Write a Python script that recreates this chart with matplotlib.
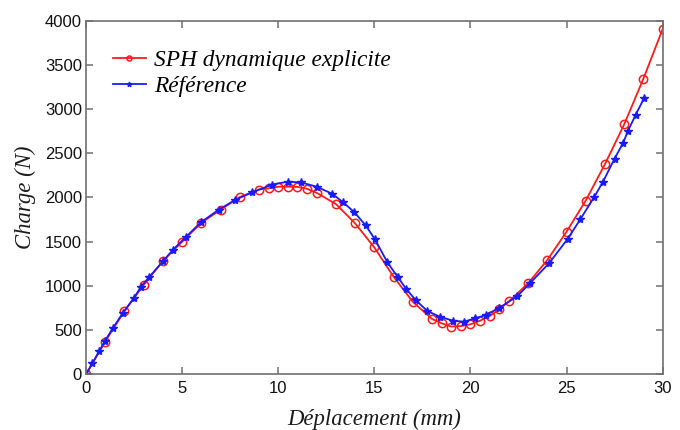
import matplotlib
matplotlib.use("Agg")
import matplotlib.pyplot as plt

# Data
sph_x = [0, 1, 2, 3, 4, 5, 6, 7, 8, 9, 9.5, 10, 10.5, 11, 11.5, 12, 13, 14, 15, 16, 17, 18,
         18.5, 19, 19.5, 20, 20.5, 21, 21.5, 22, 23, 24, 25, 26, 27, 28, 29, 30]
sph_y = [0, 370, 716, 1010, 1282, 1500, 1714, 1862, 2005, 2090, 2104, 2122, 2122, 2120, 2098,
         2053, 1926, 1708, 1435, 1104, 821, 626, 577, 540, 546, 566, 606, 659, 735, 825, 1029,
         1293, 1613, 1966, 2378, 2828, 3344, 3906]

ref_x = [0, 0.33, 0.68, 0.97, 1.39, 1.92, 2.48, 2.86, 3.3, 4.03, 4.51, 5.18, 5.98, 6.9, 7.75,
         8.66, 9.7, 10.5, 11.2, 12.0, 12.8, 13.37, 13.96, 14.55, 15.02, 15.68, 16.23, 16.67,
         17.15, 17.76, 18.4, 19.1, 19.66, 20.23, 20.8, 21.5, 22.43, 23.09, 24.09, 25.05, 25.72,
         26.45, 26.9, 27.5, 27.95, 28.2, 28.6, 29.03]
ref_y = [0, 124, 260, 373, 520, 694, 860, 991, 1104, 1284, 1406, 1550, 1720, 1861, 1972,
         2060, 2147, 2179, 2170, 2122, 2043, 1947, 1834, 1684, 1531, 1267, 1097, 962,
         840, 716, 652, 606, 595, 633, 671, 752, 882, 1029, 1256, 1530, 1755,
         2009, 2180, 2440, 2620, 2756, 2937, 3122]

x_ticks = [0, 5, 10, 15, 20, 25, 30]
y_ticks = [0, 500, 1000, 1500, 2000, 2500, 3000, 3500, 4000]

fig = plt.figure(figsize=(6.8, 4.3), dpi=100)
ax = fig.add_axes([0.1265, 0.1295, 0.848, 0.8224])

ax.plot(sph_x, sph_y, color="#ff1a1a", lw=1.3, marker="o", ms=6, mfc="none",
        mec="#ff1a1a", mew=1.1, label="SPH dynamique explicite")
ax.plot(ref_x, ref_y, color="#1a1aff", lw=1.3, marker="*", ms=6,
        mfc="#1a1aff", mec="#1a1aff", label="Référence")

ax.set_xlim(0, 30)
ax.set_ylim(0, 4000)
ax.set_xticks(x_ticks)
ax.set_yticks(y_ticks)
ax.set_xticklabels([str(t) for t in x_ticks])
ax.set_yticklabels([str(t) for t in y_ticks])

for s in ax.spines.values():
    s.set_color("#707070")
    s.set_linewidth(1.2)
ax.tick_params(direction="in", length=5, width=1.1, color="#707070",
               top=True, right=True, labelsize=12, labelcolor="#111111")
ax.tick_params(axis="x", pad=5)
ax.tick_params(axis="y", pad=3)
for lab in ax.get_xticklabels() + ax.get_yticklabels():
    lab.set_family("Liberation Sans")

serif = {"family": "Liberation Serif", "style": "italic", "size": 16.4, "color": "#1a1a1a"}
ax.set_xlabel("Déplacement (mm)", fontdict=serif, labelpad=9)
ax.set_ylabel("Charge (N)", fontdict=serif, labelpad=6)

leg = ax.legend(loc="upper left", frameon=False, bbox_to_anchor=(0.047, 0.918),
                prop={"family": "Liberation Serif", "style": "italic", "size": 16.8},
                handlelength=1.4, handletextpad=0.35, labelspacing=0.2,
                borderaxespad=0, borderpad=0, markerscale=0.6)

fig.savefig("out.png", dpi=100)
